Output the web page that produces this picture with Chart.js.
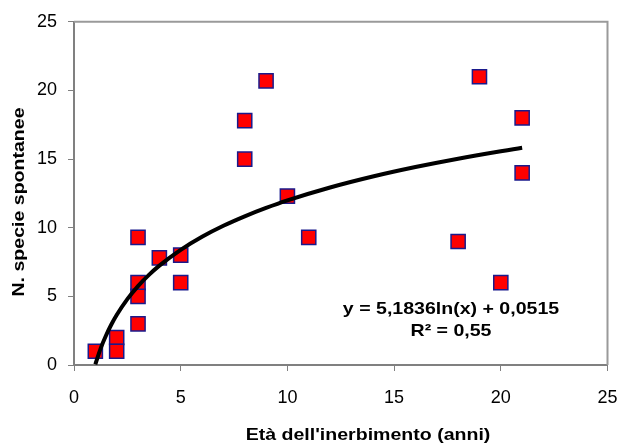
<!DOCTYPE html>
<html><head><meta charset="utf-8">
<script src="https://cdn.jsdelivr.net/npm/chart.js@4/dist/chart.umd.min.js"></script>
<style>html,body{margin:0;padding:0;background:#fff}#wrap{width:619px;height:445px;position:relative}</style>
</head><body><div id="wrap"><canvas id="c"></canvas></div>
<script>
// Observed data: age of grass cover (years) vs number of spontaneous species
const ageYears     = [1, 2, 2, 3,   3, 3, 3, 4,   5, 5, 8,    8,  9,    10,   11,  18, 19, 20, 21, 21];
const speciesCount = [1, 2, 1, 9.3, 6, 5, 3, 7.8, 8, 6, 17.8, 15, 20.7, 12.3, 9.3, 9,  21, 6,  18, 14];
// Logarithmic trend line
const trendX = [1, 1.25, 1.5, 1.75, 2, 2.5, 3, 3.5, 4, 5, 6, 7, 8, 9, 10, 12, 14, 16, 18, 21];
const trendY = [0.05, 1.21, 2.15, 2.95, 3.64, 4.80, 5.75, 6.55, 7.24, 8.39, 9.34, 10.14, 10.83, 11.44, 11.99, 12.93, 13.73, 14.42, 15.03, 15.83];
const xTicks = [0, 5, 10, 15, 20, 25];
const yTicks = [0, 5, 10, 15, 20, 25];
const xTitle = "Età dell'inerbimento (anni)";
const yTitle = "N. specie spontanee";
const eqLines = ["y = 5,1836ln(x) + 0,0515", "R\u00B2 = 0,55"];

const FONT = "'Liberation Sans', Arial, sans-serif";

const textPlugin = {
  id: 'textPlugin',
  afterDraw(chart) {
    const ctx = chart.ctx, a = chart.chartArea;
    ctx.save();
    ctx.strokeStyle = '#9a9a9a';
    ctx.lineWidth = 2;
    ctx.beginPath();
    ctx.moveTo(a.left, a.top);
    ctx.lineTo(a.right, a.top);
    ctx.lineTo(a.right, a.bottom);
    ctx.stroke();
    ctx.fillStyle = '#000';
    ctx.font = 'bold 17px ' + FONT;
    ctx.textAlign = 'center';
    ctx.textBaseline = 'alphabetic';
    const sx = 1.15;
    ctx.save(); ctx.translate(368, 440); ctx.scale(sx, 1); ctx.fillText(xTitle, 0, 0); ctx.restore();
    ctx.save(); ctx.translate(23.5, 202); ctx.rotate(-Math.PI / 2); ctx.scale(sx, 1); ctx.fillText(yTitle, 0, 0); ctx.restore();
    ctx.textBaseline = 'middle';
    ctx.save(); ctx.translate(451, 309); ctx.scale(sx, 1); ctx.fillText(eqLines[0], 0, 0); ctx.restore();
    ctx.save(); ctx.translate(451, 331); ctx.scale(sx, 1); ctx.fillText(eqLines[1], 0, 0); ctx.restore();
    ctx.restore();
  }
};

new Chart(document.getElementById('c'), {
  type: 'scatter',
  data: {
    datasets: [
      {
        label: 'Specie',
        data: ageYears.map((x, i) => ({x: x, y: speciesCount[i]})),
        pointStyle: 'rect',
        pointRadius: 10,
        pointBackgroundColor: '#ff0000',
        pointBorderColor: '#1a1a8c',
        pointBorderWidth: 1.5,
        order: 2
      },
      {
        label: 'Tendenza',
        type: 'line',
        data: trendX.map((x, i) => ({x: x, y: trendY[i]})),
        borderColor: '#000',
        borderWidth: 4,
        pointRadius: 0,
        fill: false,
        cubicInterpolationMode: 'monotone',
        order: 1
      }
    ]
  },
  options: {
    responsive: true,
    maintainAspectRatio: false,
    animation: false,
    devicePixelRatio: 1,
    layout: {padding: {left: 0, top: 21, right: 0, bottom: 0}},
    plugins: {legend: {display: false}, tooltip: {enabled: false}},
    scales: {
      x: {
        type: 'linear', min: 0, max: 25,
        afterFit(s) { s.height = 80; s.paddingRight = 11; },
        afterBuildTicks(s) { s.ticks = xTicks.map(v => ({value: v})); },
        ticks: {font: {family: FONT, size: 18}, color: '#000', padding: 16, maxRotation: 0},
        grid: {display: true, drawOnChartArea: false, drawTicks: true, tickLength: 6, color: '#808080', lineWidth: 1},
        border: {display: true, color: '#808080', width: 2}
      },
      y: {
        type: 'linear', min: 0, max: 25,
        afterFit(s) { s.width = 74; },
        afterBuildTicks(s) { s.ticks = yTicks.map(v => ({value: v})); },
        ticks: {font: {family: FONT, size: 18}, color: '#000', padding: 11},
        grid: {display: true, drawOnChartArea: false, drawTicks: true, tickLength: 6, color: '#808080', lineWidth: 1},
        border: {display: true, color: '#808080', width: 2}
      }
    }
  },
  plugins: [textPlugin]
});
</script>
</body></html>
